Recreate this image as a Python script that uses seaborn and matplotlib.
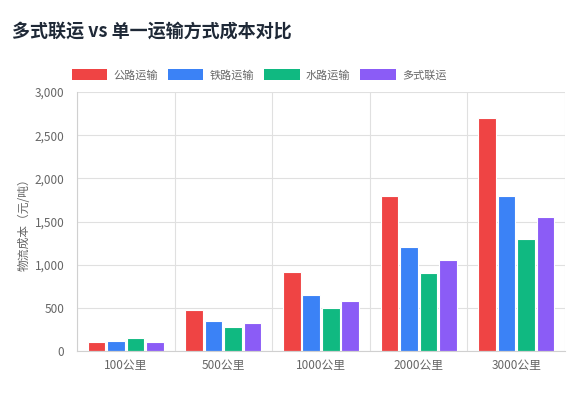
import matplotlib
matplotlib.use("Agg")
import matplotlib.pyplot as plt
import seaborn as sns
import pandas as pd
from matplotlib.patches import Patch
from matplotlib.ticker import FuncFormatter, MultipleLocator, FixedLocator

categories = ["100公里", "500公里", "1000公里", "2000公里", "3000公里"]
series_names = ["公路运输", "铁路运输", "水路运输", "多式联运"]
road = [100, 480, 920, 1800, 2700]
rail = [120, 350, 650, 1200, 1800]
water = [150, 280, 500, 900, 1300]
multimodal = [110, 320, 580, 1050, 1550]
colors = ["#EF4444", "#3B82F6", "#10B981", "#8B5CF6"]

sns.set_style("white")
plt.rcParams['font.family'] = ['Noto Sans CJK SC', 'DejaVu Sans']

rows = []
for name, vals in zip(series_names, [road, rail, water, multimodal]):
    for c, v in zip(categories, vals):
        rows.append({"距离": c, "方式": name, "成本": v})
df = pd.DataFrame(rows)

fig = plt.figure(figsize=(5.82, 3.97), dpi=100)
ax = fig.add_axes([77/582, 1-351/397, (565-77)/582, (351-92)/397])

sns.barplot(data=df, x="距离", y="成本", hue="方式", order=categories,
            hue_order=series_names, palette=colors, width=0.8, gap=0.1,
            edgecolor="#ffffff", linewidth=0.8, saturation=1, ax=ax, legend=False)

ax.set_xlim(-0.5, len(categories) - 0.5)
ax.set_ylim(0, 3000)
ax.yaxis.set_major_locator(MultipleLocator(500))
ax.yaxis.set_major_formatter(FuncFormatter(lambda v, p: f"{int(v):,}"))
ax.xaxis.set_minor_locator(FixedLocator([i - 0.5 for i in range(len(categories) + 1)]))
ax.grid(True, axis="y", which="major", color="#e0e0e0", linewidth=0.8)
ax.grid(True, axis="x", which="minor", color="#e0e0e0", linewidth=0.8)
ax.set_axisbelow(True)
ax.tick_params(axis="x", which="major", length=0, pad=6, labelsize=8.5, labelcolor="#666666")
ax.tick_params(axis="x", which="minor", length=8, color="#e0e0e0", width=0.8)
ax.tick_params(axis="y", which="major", length=7, color="#e0e0e0", width=0.8, pad=2,
               labelsize=8.5, labelcolor="#666666")
for s in ["top", "right"]:
    ax.spines[s].set_visible(False)
ax.spines["left"].set_color("#d0d0d0")
ax.spines["bottom"].set_color("#d0d0d0")
ax.spines["left"].set_linewidth(0.8)
ax.spines["bottom"].set_linewidth(0.8)
ax.set_xlabel("")
ax.set_ylabel("物流成本（元/吨）", fontsize=8.5, color="#666666", labelpad=3)

fig.text(12/582, 1-31/397, "多式联运 vs 单一运输方式成本对比", fontsize=13,
         fontweight="bold", color="#1f2937", va="center", ha="left")

handles = [Patch(facecolor=c, edgecolor="none", label=n) for c, n in zip(colors, series_names)]
fig.legend(handles=handles, loc="center", bbox_to_anchor=(259/582, 1-75/397), ncol=4,
           frameon=False, fontsize=8, labelcolor="#666666", handlelength=3.2,
           handleheight=1.1, columnspacing=0.9, handletextpad=0.55)

fig.savefig("out.png", dpi=100)
